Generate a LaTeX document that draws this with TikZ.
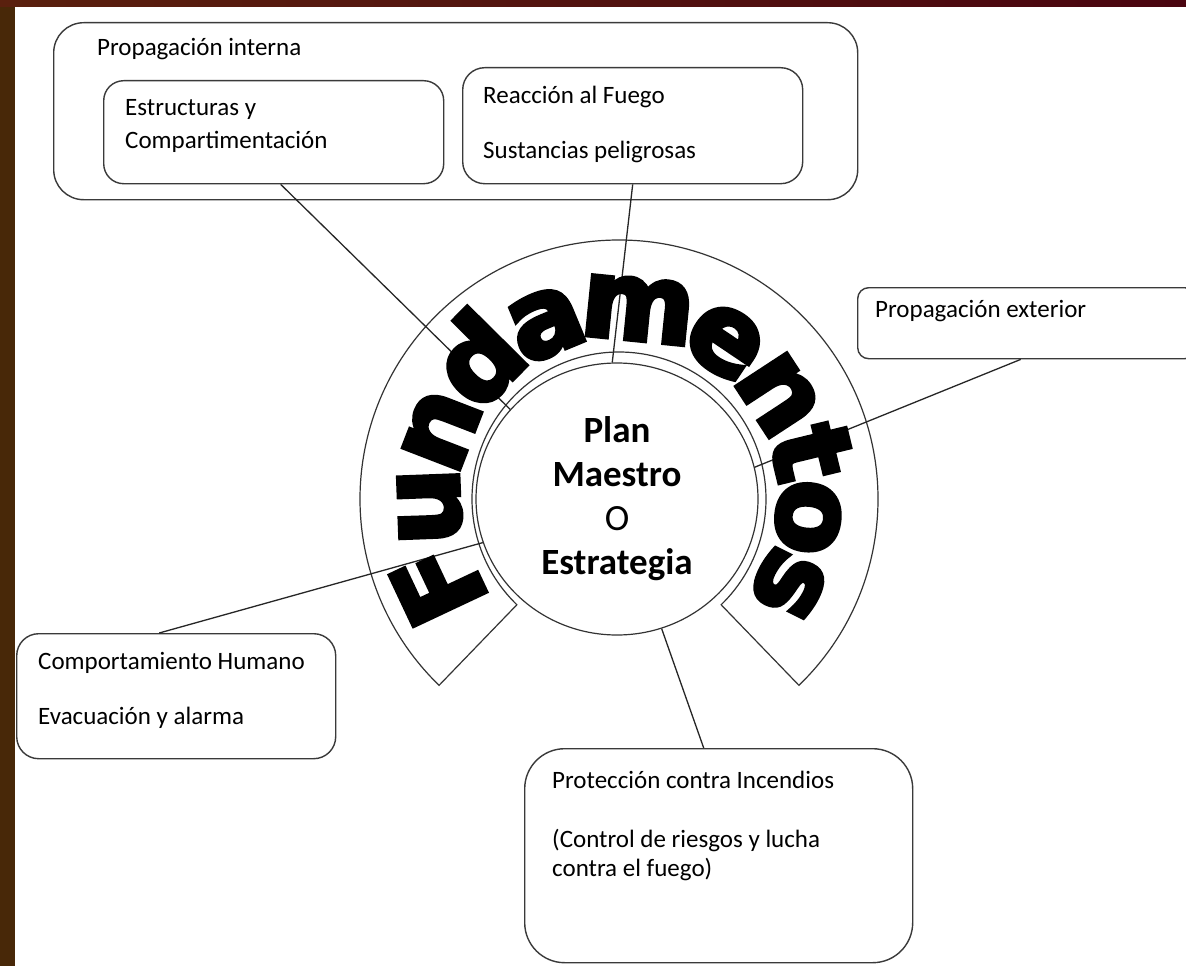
\documentclass[tikz,border=0pt]{standalone}
\usepackage{fontspec}
\setmainfont{Carlito}
\newfontfamily\fundfam{DejaVu Sans Bold}[FakeBold=4.5]
\usetikzlibrary{shapes.geometric,decorations.text}
\definecolor{edgegray}{HTML}{3A3A3A}
\definecolor{frameleft}{HTML}{482808}
\definecolor{topa}{HTML}{5A200E}
\definecolor{topb}{HTML}{4A0510}
\begin{document}
\begin{tikzpicture}[x=1pt,y=1pt,
  box/.style={draw=edgegray, line width=1.4pt, fill=white, inner sep=0pt, anchor=north west},
  lbl/.style={anchor=mid west, inner sep=0pt, font=\fontsize{25}{30}\selectfont, text=black},
  link/.style={draw=black!85, line width=1.3pt},
  ring/.style={draw=black!80, line width=1.2pt}]

% frame and page
\useasboundingbox (0,0) rectangle (1186,-966);
\fill[frameleft] (0,0) rectangle (1186,-966);
\shade[left color=topa, right color=topb] (0,0) rectangle (1186,-7);
\fill[white] (15,-7) rectangle (1186,-966);
\clip (0,0) rectangle (1186,-966);

% hub of the arch
\coordinate (hub) at (619,-499);

% arch band
\draw[ring] ([shift={(-46:147pt)}]hub) -- ([shift={(-46:259pt)}]hub)
  arc[start angle=-46, end angle=226, radius=259pt]
  -- ([shift={(226:147pt)}]hub)
  arc[start angle=226, end angle=-46, radius=147pt] -- cycle;

% central circle
\node[draw=black!80, line width=1.2pt, ellipse, minimum width=282pt, minimum height=272pt,
  inner sep=0pt, align=center, font=\fontsize{37}{44}\selectfont] (plan) at (617,-499)
  {\textbf{Plan}\\\textbf{Maestro}\\O\\\textbf{Estrategia}};

% boxes
\node[box, rounded corners=30pt, minimum width=804pt, minimum height=177pt] (intern) at (53,-22) {};
\node[box, rounded corners=20pt, minimum width=340pt, minimum height=103pt] (estr) at (103,-80) {};
\node[box, rounded corners=22pt, minimum width=340pt, minimum height=116pt] (reac) at (462,-67) {};
\node[box, rounded corners=11pt, minimum width=338pt, minimum height=71pt] (ext) at (857,-287) {};
\node[box, rounded corners=22pt, minimum width=319pt, minimum height=125pt] (comp) at (16,-633) {};
\node[box, rounded corners=40pt, minimum width=388pt, minimum height=214pt] (prot) at (524,-748) {};

% texts
\node[lbl] (tintern) at (97,-53) {Propagación interna};
\node[lbl] (testr1) at (125,-113) {Estructuras y};
\node[lbl] (testr2) at (125,-146) {Compartimentación};
\node[lbl] (treac1) at (483,-101) {Reacción al Fuego};
\node[lbl] (treac2) at (483,-156) {Sustancias peligrosas};
\node[lbl] (text1) at (875,-315) {Propagación exterior};
\node[lbl] (tcomp1) at (38,-667) {Comportamiento Humano};
\node[lbl] (tcomp2) at (38,-722) {Evacuación y alarma};
\node[lbl] (tprot1) at (552,-786) {Protección contra Incendios};
\node[lbl] (tprot2) at (552,-845) {(Control de riesgos y lucha};
\node[lbl] (tprot3) at (552,-874) {contra el fuego)};

% connectors
\draw[link] ([xshift=7pt]estr.south) -- (plan.140);
\draw[link] (reac.south) -- (plan.92);
\draw[link] ([xshift=-6pt]ext.south) -- (plan.13);
\draw[link] ([xshift=-17pt]comp.north) -- (plan.198);
\draw[link] ([xshift=-15pt]prot.north) -- (plan.289);

% arched title
\path[decorate, decoration={text along path,
    text={|\fundfam\fontsize{109}{109}\selectfont|Fundamentos},
    text align=center, raise=-30pt}]
  ([shift={(214:190pt)}]hub) arc[start angle=214, end angle=-34, radius=190pt];
\end{tikzpicture}
\end{document}
